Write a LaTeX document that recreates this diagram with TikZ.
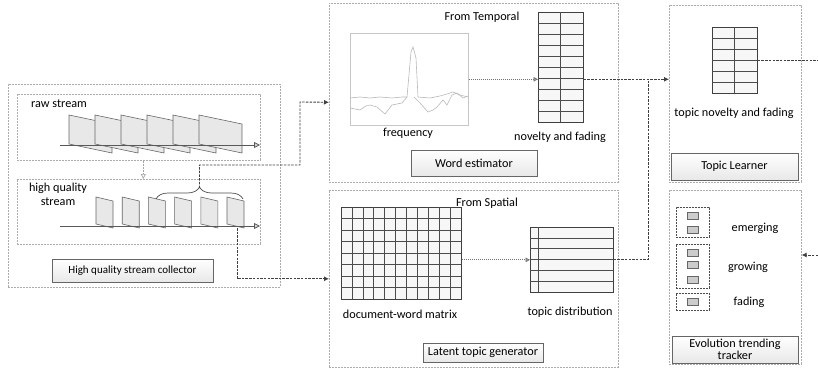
\documentclass[tikz,border=0pt]{standalone}
\usepackage{fontspec}
\setmainfont{Carlito}
\usetikzlibrary{arrows.meta,decorations.pathreplacing,calc}
\begin{document}
\begin{tikzpicture}[x=1pt,y=-1pt,font=\fontsize{12.2}{14}\selectfont,
  obox/.style={draw=gray!65, dash pattern=on 2pt off 1pt, line width=0.6pt, inner sep=0pt, anchor=north west},
  grp/.style={draw=black!70, dash pattern=on 2pt off 1pt, line width=0.6pt, inner sep=0pt, anchor=north west},
  lbl/.style={draw=black!60, line width=0.6pt, top color=white, bottom color=gray!18, inner sep=0pt, align=center},
  tbl/.style={draw=black!75, line width=0.7pt, fill=gray!6, inner sep=0pt, anchor=north west},
  gline/.style={draw=black!70, line width=0.6pt},
  conn/.style={draw=black!75, line width=0.9pt, dash pattern=on 2.5pt off 1.2pt, -{Latex[length=5pt,width=5pt]}},
  connp/.style={draw=black!75, line width=0.9pt, dash pattern=on 2.5pt off 1.2pt},
  dotarr/.style={draw=black!55, line width=0.8pt, dash pattern=on 1pt off 1pt, -{Triangle[length=4.5pt,width=4.5pt,fill=gray!60]}},
  slab/.style={fill=gray!18, draw=black!60, line width=0.6pt},
  axisarr/.style={draw=black!65, line width=0.8pt, -{Triangle[open,length=6pt,width=6pt,fill=gray!30]}},
  chip/.style={fill=gray!40, draw=black!60, line width=0.5pt, minimum width=11pt, minimum height=7pt, inner sep=0pt},
  txt/.style={inner sep=0pt}]
\useasboundingbox (0,0) rectangle (818,369);

% ---------------- collector ----------------
\node[obox, minimum width=272pt, minimum height=203pt] (col) at (8,84) {};
\node[obox, minimum width=243pt, minimum height=66pt] (raw) at (17,94) {};
\node[obox, minimum width=243pt, minimum height=65pt] (hq) at (17,179) {};
\node[lbl, minimum width=161pt, minimum height=23pt, font=\fontsize{11}{13}\selectfont] (colL) at (132.5,270.5) {High quality stream collector};
\node[txt, anchor=west] (rawt) at (31,104) {raw stream};
\node[txt, align=center] (hqt) at (58,194) {high quality\\stream};

\foreach \i in {0,...,5}{
  \pgfmathsetmacro\xx{69+26*\i}
  \draw[slab] (\xx,115) -- ({\xx+43},124) -- ({\xx+43},153) -- (\xx,144) -- cycle;
}
\draw[axisarr] (60,145) -- (260,145);
\foreach \i in {0,...,5}{
  \pgfmathsetmacro\xx{96+26.2*\i}
  \draw[slab] (\xx,197) -- ({\xx+17},201) -- ({\xx+17},228) -- (\xx,224) -- cycle;
}
\draw[axisarr] (60,226) -- (260,226);
\draw[decorate, decoration={brace, amplitude=12pt}, black!70, line width=0.7pt] (156,199) -- (243,199);
\draw[draw=gray!70, line width=0.7pt, dash pattern=on 2pt off 1pt, -{Triangle[open,length=5pt,width=5pt]}] ([xshift=4.5pt]raw.south) -- ([xshift=4.5pt]hq.north);

% ---------------- word estimator ----------------
\node[obox, minimum width=289pt, minimum height=179pt] (we) at (329,3) {};
\node[lbl, minimum width=126pt, minimum height=26pt] (weL) at (474,163) {Word estimator};
\node[txt] (ft) at (482,17) {From Temporal};
\node[draw=gray!45, line width=0.6pt, fill=white, minimum width=118pt, minimum height=92pt, inner sep=0pt, anchor=north west] (chart) at (350,33) {};
\draw[gray!55, line width=0.6pt] (350,98) -- (360,97) -- (370,98) -- (380,97) -- (392,98) -- (402,97) -- (407,97) -- (411,52) -- (413,47) -- (416,58) -- (418,97) -- (430,98) -- (440,96) -- (447,94) -- (453,92) -- (460,95) -- (468,97);
\draw[gray!55, line width=0.6pt] (350,108) -- (355,109) -- (360,110) -- (366,106) -- (370,105) -- (377,107) -- (385,114) -- (392,105) -- (402,103) -- (407,97);
\draw[gray!55, line width=0.6pt] (414,97) -- (420,103) -- (428,112) -- (433,110) -- (437,107) -- (443,100) -- (447,105) -- (452,95) -- (457,93) -- (463,98) -- (468,96);
\node[txt] (freq) at (408,133) {frequency};
\node[txt] (novt) at (560,137) {novelty and fading};
\node[tbl, minimum width=45pt, minimum height=110pt] (nov) at (538,12) {};
\foreach \i in {1,...,9}{ \draw[gline] (538,{12+11*\i}) -- (583,{12+11*\i}); }
\draw[gline] (560,12) -- (560,122);
\draw[dotarr] (chart.east) -- (chart.east -| nov.west);

% ---------------- latent topic generator ----------------
\node[obox, minimum width=289pt, minimum height=177pt] (lt) at (329,190) {};
\node[lbl, minimum width=120pt, minimum height=19pt] (ltL) at (483,352.5) {Latent topic generator};
\node[txt] (fs) at (487,203) {From Spatial};
\node[tbl, minimum width=120pt, minimum height=92pt] (mat) at (341,207) {};
\foreach \i in {1,...,10}{ \draw[gline] ({341+120/11*\i},207) -- ({341+120/11*\i},299); }
\foreach \i in {1,...,7}{ \draw[gline] (341,{207+11.5*\i}) -- (461,{207+11.5*\i}); }
\node[txt] (matt) at (400,314) {document-word matrix};
\node[tbl, minimum width=83pt, minimum height=65pt] (dist) at (530,227) {};
\foreach \i in {1,...,5}{ \draw[gline] (530,{227+65/6*\i}) -- (613,{227+65/6*\i}); }
\draw[gline] (538,227) -- (538,292);
\node[txt] (distt) at (570,312) {topic distribution};
\draw[dotarr] (dist.west -| mat.east) -- (dist.west);

% ---------------- topic learner ----------------
\node[obox, minimum width=132pt, minimum height=177pt] (tl) at (669,5) {};
\node[lbl, minimum width=127pt, minimum height=27pt] (tlL) at (734.5,166.5) {Topic Learner};
\node[tbl, minimum width=45pt, minimum height=66pt] (tln) at (712,27) {};
\foreach \i in {1,...,5}{ \draw[gline] (712,{27+11*\i}) -- (757,{27+11*\i}); }
\draw[gline] (734,27) -- (734,93);
\node[txt] (tlt) at (734,113) {topic novelty and fading};

% ---------------- evolution tracker ----------------
\node[obox, minimum width=132pt, minimum height=174pt] (et) at (669,190) {};
\node[lbl, minimum width=126pt, minimum height=27pt] (etL) at (735,349.5) {Evolution trending\\[-2pt]tracker};
\node[grp, minimum width=33pt, minimum height=30pt] (g1) at (676,207) {};
\node[grp, minimum width=33pt, minimum height=44pt] (g2) at (676,244) {};
\node[grp, minimum width=33pt, minimum height=17pt] (g3) at (676,293) {};
\node[chip] (c1) at (692.5,216) {};
\node[chip] (c2) at (692.5,230) {};
\node[chip] (c3) at (692.5,252.5) {};
\node[chip] (c4) at (692.5,265) {};
\node[chip] (c5) at (692.5,279.5) {};
\node[chip] (c6) at (692.5,301.5) {};
\node[txt] (em) at (755,228) {emerging};
\node[txt] (gr) at (748,267) {growing};
\node[txt] (fa) at (749,302) {fading};

% ---------------- connectors ----------------
\coordinate (bt) at (199.5,188);
\draw[conn] (bt) -- (199.5,165) -- (300,165) -- (300,102) -- ([yshift=-9.5pt]we.west);
\coordinate (hqend) at (237,228);
\draw[conn] (hqend) |- (lt.west);
\draw[conn] (chart.east -| nov.east) -- (chart.east -| tl.west);
\coordinate (jn) at (648,79);
\draw[connp] (dist.east) -| (jn);
\coordinate (rout) at (818,0);
\draw[connp] (tln.east) -- (tln.east -| rout);
\coordinate (rin) at (818,255);
\draw[conn] (rin) -- (rin -| et.east);
\end{tikzpicture}
\end{document}
